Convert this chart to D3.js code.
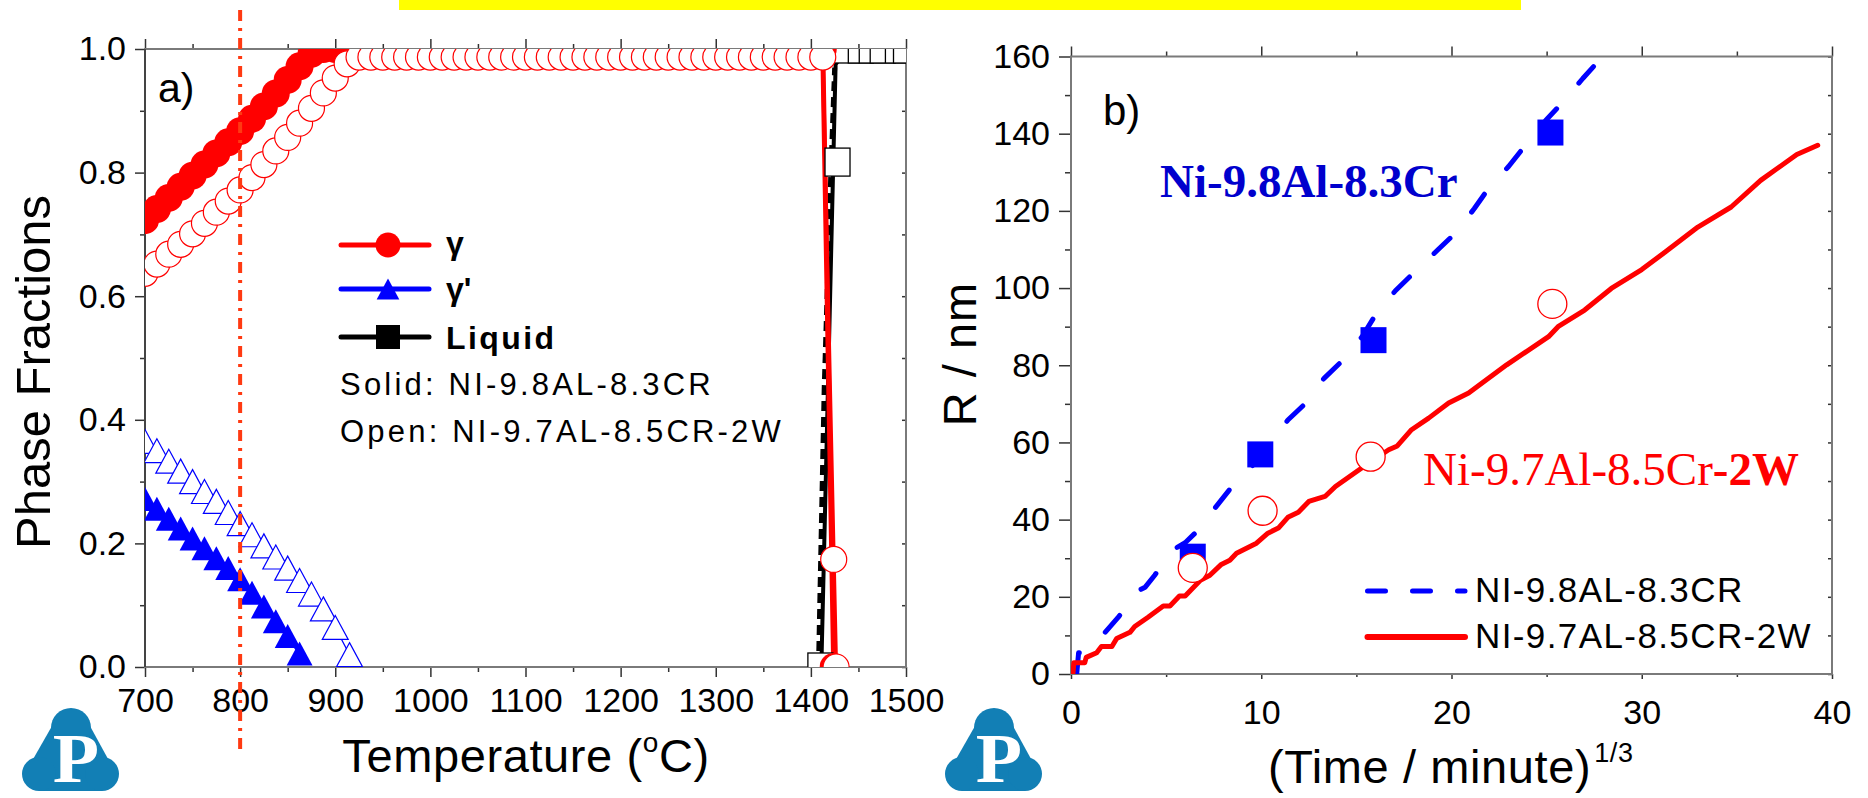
<!DOCTYPE html>
<html><head><meta charset="utf-8">
<script src="https://cdn.jsdelivr.net/npm/d3@7"></script>
<style>html,body{margin:0;padding:0;background:#fff;}svg{display:block;}</style>
</head><body>
<svg id="c" width="1868" height="798"></svg>
<script>
// ---------------- Panel a data (phase fractions vs temperature) ----------------
const xTicksA = [700, 800, 900, 1000, 1100, 1200, 1300, 1400, 1500];
const xMinorA = [750, 850, 950, 1050, 1150, 1250, 1350, 1450];
const yTicksA = [0, 0.2, 0.4, 0.6, 0.8, 1.0];
const yMinorA = [0.1, 0.3, 0.5, 0.7, 0.9];

// gamma, solid alloy (filled circles)
const gammaSolidT = [700, 712.5, 725, 737.5, 750, 762.5, 775, 787.5, 800, 812.5, 825, 837.5, 850, 862.5, 875, 887.5, 900, 912.5, 1412.5, 1424];
const gammaSolidF = [0.723, 0.741, 0.759, 0.777, 0.795, 0.813, 0.831, 0.849, 0.867, 0.887, 0.907, 0.928, 0.950, 0.972, 0.992, 1.0, 1.0, 1.0, 1.0, 0.0];
// gamma, open alloy (open circles)
const gammaOpenT = [700, 712.5, 725, 737.5, 750, 762.5, 775, 787.5, 800, 812.5, 825, 837.5, 850, 862.5, 875, 887.5, 900, 912.5,
  925, 937.5, 950, 962.5, 975, 987.5, 1000, 1012.5, 1025, 1037.5, 1050, 1062.5, 1075, 1087.5, 1100, 1112.5, 1125, 1137.5, 1150, 1162.5,
  1175, 1187.5, 1200, 1212.5, 1225, 1237.5, 1250, 1262.5, 1275, 1287.5, 1300, 1312.5, 1325, 1337.5, 1350, 1362.5, 1375, 1387.5, 1400, 1412.5,
  1424, 1426.5];
const gammaOpenF = [0.637, 0.652, 0.668, 0.684, 0.701, 0.718, 0.736, 0.754, 0.772, 0.792, 0.813, 0.835, 0.857, 0.880, 0.904, 0.929, 0.953, 0.976,
  0.987, 0.987, 0.987, 0.987, 0.987, 0.987, 0.987, 0.987, 0.987, 0.987, 0.987, 0.987, 0.987, 0.987, 0.987, 0.987, 0.987, 0.987, 0.987, 0.987,
  0.987, 0.987, 0.987, 0.987, 0.987, 0.987, 0.987, 0.987, 0.987, 0.987, 0.987, 0.987, 0.987, 0.987, 0.987, 0.987, 0.987, 0.987, 0.987, 0.987,
  0.174, 0.0];
// gamma prime, solid alloy (filled triangles)
const gpSolidT = [700, 712.5, 725, 737.5, 750, 762.5, 775, 787.5, 800, 812.5, 825, 837.5, 850, 862.5];
const gpSolidF = [0.272, 0.256, 0.240, 0.224, 0.208, 0.192, 0.176, 0.160, 0.142, 0.120, 0.098, 0.074, 0.050, 0.022];
// gamma prime, open alloy (open triangles)
const gpOpenT = [700, 712.5, 725, 737.5, 750, 762.5, 775, 787.5, 800, 812.5, 825, 837.5, 850, 862.5, 875, 887.5, 900, 915];
const gpOpenF = [0.365, 0.350, 0.333, 0.317, 0.300, 0.284, 0.268, 0.250, 0.232, 0.214, 0.196, 0.178, 0.160, 0.140, 0.118, 0.094, 0.064, 0.020];
// liquid, solid alloy (solid black line)
const liqSolidT = [1411, 1426, 1437.5, 1500];
const liqSolidF = [0.0, 0.975, 1.0, 1.0];
// liquid, open alloy (dashed black line + open squares)
const liqOpenLineT = [1408, 1414, 1421, 1425];
const liqOpenLineF = [0.0, 0.45, 0.80, 0.97];
const liqOpenT = [1410, 1428, 1437.5, 1452.5, 1464, 1475.5, 1491.5, 1500];
const liqOpenF = [0.0, 0.817, 1.0, 1.0, 1.0, 1.0, 1.0, 1.0];

const legendLabelsA = ["\u03b3", "\u03b3'", "Liquid"];
const noteSolid = "Solid: NI-9.8AL-8.3CR";
const noteOpen = "Open: NI-9.7AL-8.5CR-2W";
const markerTemp = 800;

// ---------------- Panel b data (R vs t^(1/3)) ----------------
const xTicksB = [0, 10, 20, 30, 40];
const xMinorB = [5, 15, 25, 35];
const yTicksB = [0, 20, 40, 60, 80, 100, 120, 140, 160];
const yMinorB = [10, 30, 50, 70, 90, 110, 130, 150];

const redX = [0.1, 0.15, 0.72, 0.8, 1.35, 1.6, 2.15, 2.4, 3.1, 3.35, 4.05, 4.85, 5.2, 5.7, 6.0, 6.8, 7.3, 7.9, 8.35, 8.7, 9.75, 10.35, 10.9, 11.4, 11.95, 12.5, 13.35, 13.9, 14.85, 15.9, 16.7, 17.15, 17.9, 18.8, 19.85, 20.9, 22.9, 25.1, 25.6, 27.0, 28.4, 30.0, 31.25, 32.95, 34.7, 36.25, 38.15, 39.25];
const redY = [0, 2.9, 2.9, 4.3, 5.5, 7.1, 7.1, 9.2, 10.8, 12.3, 14.7, 17.6, 17.6, 20.2, 20.2, 24.3, 25.6, 28.4, 29.5, 31.3, 33.9, 36.5, 37.8, 40.6, 41.9, 44.7, 46.0, 48.6, 51.9, 55.5, 58.1, 59.1, 63.3, 66.3, 70.2, 72.8, 80.1, 87.4, 90.0, 94.3, 99.9, 104.8, 109.4, 115.8, 121.0, 127.9, 134.6, 137.0];
const blueX = [0.3, 0.4, 0.6, 1.6, 2.5, 3.55, 3.9, 4.4, 5.4, 6.0, 6.5, 7.55, 8.45, 9.5, 11.4, 12.3, 13.3, 14.2, 15.3, 16.0, 17.05, 17.9, 19.3, 20.2, 21.2, 22.0, 23.0, 23.95, 24.95, 25.8, 26.9, 27.8];
const blueY = [0, 5.5, 5.5, 9.7, 14.8, 21.6, 22.5, 25.6, 32.3, 34.0, 36.4, 42.9, 48.5, 53.7, 65.8, 70.0, 76.6, 80.9, 87.4, 93.0, 99.3, 103.4, 110.0, 114.2, 120.6, 126.2, 131.5, 137.4, 143.4, 147.9, 154.3, 159.2];
const sqX = [6.4, 9.95, 15.9, 25.2];
const sqY = [30.4, 56.9, 86.5, 140.3];
const circX = [6.4, 10.07, 15.75, 25.3];
const circY = [27.5, 42.3, 56.3, 95.9];
const legendLabelsB = ["NI-9.8AL-8.3CR", "NI-9.7AL-8.5CR-2W"];
const annBlue = "Ni-9.8Al-8.3Cr";
const annRedA = "Ni-9.7Al-8.5Cr", annRedB = "-2W";

// ---------------- drawing ----------------
const FONT = "'Liberation Sans', Arial, Helvetica, sans-serif";
const SERIF = "'Liberation Serif', 'Times New Roman', Times, serif";
const RED = "#ff0000", BLUE = "#0000ff", FRAME = "#7a7a7a";
const svg = d3.select("#c");
svg.append("rect").attr("width", 1868).attr("height", 798).attr("fill", "#fff");
svg.append("rect").attr("x", 399).attr("y", 0).attr("width", 1122).attr("height", 10).attr("fill", "#ffff00");

const xA = d3.scaleLinear().domain([700, 1500]).range([145, 906]);
const yA = d3.scaleLinear().domain([0, 1]).range([667, 49]);
const xB = d3.scaleLinear().domain([0, 40]).range([1071, 1832]);
const yB = d3.scaleLinear().domain([0, 160]).range([674, 56.5]);

const defs = svg.append("defs");
defs.append("clipPath").attr("id", "clipA").append("rect").attr("x", 145).attr("y", 49).attr("width", 761).attr("height", 618);
defs.append("clipPath").attr("id", "clipB").append("rect").attr("x", 1071).attr("y", 56.5).attr("width", 761).attr("height", 617.5);

function styleAxis(g) {
  g.select(".domain").remove();
  g.selectAll(".tick line").attr("stroke", "#333").attr("stroke-width", 1.5);
  g.selectAll(".tick text").attr("font-family", FONT).attr("font-size", 34).attr("fill", "#000");
}
function drawAxes(x, y, o) {
  const [x0, x1] = x.range(), [yb, yt] = y.range();
  const g = svg.append("g");
  g.append("g").attr("transform", `translate(0,${yb})`).call(d3.axisBottom(x).tickValues(o.xMinor).tickSize(o.bMin).tickFormat("")).call(styleAxis);
  g.append("g").attr("transform", `translate(0,${yb})`).call(d3.axisBottom(x).tickValues(o.xTicks).tickSize(o.bMaj).tickPadding(o.bPad).tickFormat(o.xFmt)).call(styleAxis);
  g.append("g").attr("transform", `translate(0,${yt})`).call(d3.axisTop(x).tickValues(o.xMinor).tickSize(5).tickFormat("")).call(styleAxis);
  g.append("g").attr("transform", `translate(0,${yt})`).call(d3.axisTop(x).tickValues(o.xTicks).tickSize(10).tickFormat("")).call(styleAxis);
  g.append("g").attr("transform", `translate(${x0},0)`).call(d3.axisLeft(y).tickValues(o.yMinor).tickSize(o.lMin).tickFormat("")).call(styleAxis);
  g.append("g").attr("transform", `translate(${x0},0)`).call(d3.axisLeft(y).tickValues(o.yTicks).tickSize(o.lMaj).tickPadding(9).tickFormat(o.yFmt)).call(styleAxis);
  g.append("g").attr("transform", `translate(${x1},0)`).call(d3.axisLeft(y).tickValues(o.yMinor.concat(o.yTicks)).tickSize(4).tickFormat("")).call(styleAxis);
  g.append("rect").attr("x", x0).attr("y", yt).attr("width", x1 - x0).attr("height", yb - yt)
    .attr("fill", "none").attr("stroke", FRAME).attr("stroke-width", 2);
  return g;
}

drawAxes(xA, yA, {xTicks: xTicksA, xMinor: xMinorA, yTicks: yTicksA, yMinor: yMinorA, bMaj: 10, bMin: 5, bPad: 11, lMaj: 10, lMin: 5,
  xFmt: d3.format("d"), yFmt: d3.format(".1f")});
drawAxes(xB, yB, {xTicks: xTicksB, xMinor: xMinorB, yTicks: yTicksB, yMinor: yMinorB, bMaj: 5, bMin: 3, bPad: 21, lMaj: 12, lMin: 6,
  xFmt: d3.format("d"), yFmt: d3.format("d")});
// dark left spine on panel a
svg.append("line").attr("x1", 145).attr("x2", 145).attr("y1", 49).attr("y2", 667).attr("stroke", "#333").attr("stroke-width", 1.5);

// -------- panel a plot --------
const pa = svg.append("g").attr("clip-path", "url(#clipA)");
const lineA = d3.line().x(d => xA(d[0])).y(d => yA(d[1]));
const tri = s => `M0,${-s}L${s * 1.08},${s}L${-s * 1.08},${s}Z`;

pa.append("path").attr("d", lineA(d3.zip(liqSolidT, liqSolidF))).attr("fill", "none").attr("stroke", "#000").attr("stroke-width", 4);
pa.append("path").attr("d", lineA(d3.zip(liqOpenLineT, liqOpenLineF))).attr("fill", "none").attr("stroke", "#000").attr("stroke-width", 5).attr("stroke-dasharray", "10,6");
pa.append("path").attr("d", lineA(d3.zip(gpSolidT, gpSolidF))).attr("fill", "none").attr("stroke", BLUE).attr("stroke-width", 3);
pa.append("path").attr("d", lineA(d3.zip(gpOpenT, gpOpenF))).attr("fill", "none").attr("stroke", BLUE).attr("stroke-width", 1.2);
pa.append("path").attr("d", lineA(d3.zip(gammaSolidT, gammaSolidF))).attr("fill", "none").attr("stroke", RED).attr("stroke-width", 5);
pa.append("path").attr("d", lineA(d3.zip(gammaOpenT, gammaOpenF))).attr("fill", "none").attr("stroke", RED).attr("stroke-width", 4);

pa.selectAll(".lsq").data(d3.zip(liqOpenT, liqOpenF)).join("rect")
  .attr("x", d => xA(d[0]) - 12.5).attr("y", d => yA(d[1]) - 14).attr("width", 25).attr("height", 28)
  .attr("fill", "#fff").attr("stroke", "#000").attr("stroke-width", 1.3);
pa.selectAll(".gps").data(d3.zip(gpSolidT, gpSolidF)).join("path")
  .attr("transform", d => `translate(${xA(d[0])},${yA(d[1])})`).attr("d", tri(12)).attr("fill", BLUE);
pa.selectAll(".gpo").data(d3.zip(gpOpenT, gpOpenF)).join("path")
  .attr("transform", d => `translate(${xA(d[0])},${yA(d[1])})`).attr("d", tri(12)).attr("fill", "#fff").attr("stroke", BLUE).attr("stroke-width", 1.2);
pa.selectAll(".gs").data(d3.zip(gammaSolidT, gammaSolidF)).join("circle")
  .attr("cx", d => xA(d[0])).attr("cy", d => yA(d[1])).attr("r", 14).attr("fill", RED);
pa.selectAll(".go").data(d3.zip(gammaOpenT, gammaOpenF)).join("circle")
  .attr("cx", d => xA(d[0])).attr("cy", d => yA(d[1])).attr("r", 13).attr("fill", "#fff").attr("stroke", RED).attr("stroke-width", 1.2);

// vertical marker line at 800 C
svg.append("line").attr("x1", xA(markerTemp)).attr("x2", xA(markerTemp)).attr("y1", 10).attr("y2", 753)
  .attr("stroke", "#ff3a12").attr("stroke-width", 4).attr("stroke-dasharray", "11,7,3,7");

// legend a
const legA = [{c: RED, s: "circle"}, {c: BLUE, s: "tri"}, {c: "#000", s: "square"}];
const legAy = [245, 289, 337];
legA.forEach((L, i) => {
  const y = legAy[i];
  svg.append("line").attr("x1", 341).attr("x2", 429).attr("y1", y).attr("y2", y).attr("stroke", L.c).attr("stroke-width", 5).attr("stroke-linecap", "round");
  if (L.s === "circle") svg.append("circle").attr("cx", 388).attr("cy", y).attr("r", 12.5).attr("fill", L.c);
  if (L.s === "tri") svg.append("path").attr("transform", `translate(388,${y})`).attr("d", tri(10.5)).attr("fill", L.c);
  if (L.s === "square") svg.append("rect").attr("x", 376).attr("y", y - 12).attr("width", 24).attr("height", 24).attr("fill", L.c);
  svg.append("text").attr("x", 446).attr("y", [254, 300, 349][i]).attr("font-family", FONT).attr("font-weight", "bold")
    .attr("font-size", 32).attr("letter-spacing", i === 2 ? 2.4 : 0).text(legendLabelsA[i]);
});
svg.append("text").attr("x", 340).attr("y", 395).attr("font-family", FONT).attr("font-size", 31).attr("letter-spacing", 3.2).text(noteSolid);
svg.append("text").attr("x", 340).attr("y", 442).attr("font-family", FONT).attr("font-size", 31).attr("letter-spacing", 3.2).text(noteOpen);
svg.append("text").attr("x", 158).attr("y", 102).attr("font-family", FONT).attr("font-size", 41).text("a)");

// axis titles a
svg.append("text").attr("transform", "translate(50,372) rotate(-90)").attr("text-anchor", "middle")
  .attr("font-family", FONT).attr("font-size", 49).text("Phase Fractions");
const tA = svg.append("text").attr("x", 526).attr("y", 772).attr("text-anchor", "middle").attr("font-family", FONT).attr("font-size", 47).attr("letter-spacing", 0.6);
tA.append("tspan").text("Temperature (");
tA.append("tspan").attr("font-size", 28).attr("dy", -20).text("o");
tA.append("tspan").attr("dy", 20).text("C)");

// -------- panel b plot --------
const pb = svg.append("g").attr("clip-path", "url(#clipB)");
const lineB = d3.line().x(d => xB(d[0])).y(d => yB(d[1]));
pb.append("path").attr("d", lineB(d3.zip(blueX, blueY))).attr("fill", "none").attr("stroke", BLUE).attr("stroke-width", 5)
  .attr("stroke-linecap", "round").attr("stroke-linejoin", "round").attr("stroke-dasharray", "22,34");
pb.append("path").attr("d", lineB(d3.zip(redX, redY))).attr("fill", "none").attr("stroke", RED).attr("stroke-width", 5)
  .attr("stroke-linecap", "round").attr("stroke-linejoin", "round");
pb.selectAll(".bsq").data(d3.zip(sqX, sqY)).join("rect")
  .attr("x", d => xB(d[0]) - 13).attr("y", d => yB(d[1]) - 13).attr("width", 26).attr("height", 26).attr("fill", BLUE);
pb.selectAll(".rc").data(d3.zip(circX, circY)).join("circle")
  .attr("cx", d => xB(d[0])).attr("cy", d => yB(d[1])).attr("r", 14.5).attr("fill", "#fff").attr("stroke", RED).attr("stroke-width", 1.3);

// legend b
svg.append("line").attr("x1", 1367.5).attr("x2", 1465).attr("y1", 591).attr("y2", 591).attr("stroke", BLUE).attr("stroke-width", 5)
  .attr("stroke-linecap", "round").attr("stroke-dasharray", "18,27");
svg.append("line").attr("x1", 1367.5).attr("x2", 1465).attr("y1", 637).attr("y2", 637).attr("stroke", RED).attr("stroke-width", 6)
  .attr("stroke-linecap", "round");
svg.append("text").attr("x", 1475).attr("y", 602).attr("font-family", FONT).attr("font-size", 35).attr("letter-spacing", 1.4).text(legendLabelsB[0]);
svg.append("text").attr("x", 1475).attr("y", 648).attr("font-family", FONT).attr("font-size", 35).attr("letter-spacing", 1.4).text(legendLabelsB[1]);

svg.append("text").attr("x", 1160).attr("y", 197).attr("font-family", SERIF).attr("font-weight", "bold").attr("font-size", 47)
  .attr("fill", "#0000cd").text(annBlue);
const tR = svg.append("text").attr("x", 1423).attr("y", 485).attr("font-family", SERIF).attr("font-size", 47).attr("fill", RED);
tR.append("tspan").text(annRedA);
tR.append("tspan").attr("font-weight", "bold").text(annRedB);
svg.append("text").attr("x", 1103).attr("y", 125).attr("font-family", FONT).attr("font-size", 42).text("b)");

svg.append("text").attr("transform", "translate(976,354) rotate(-90)").attr("text-anchor", "middle")
  .attr("font-family", FONT).attr("font-size", 47).attr("letter-spacing", 1).text("R / nm");
const tB = svg.append("text").attr("x", 1268).attr("y", 783).attr("font-family", FONT).attr("font-size", 47).attr("letter-spacing", 0.6);
tB.append("tspan").text("(Time / minute)");
tB.append("tspan").attr("font-size", 27).attr("dy", -21).attr("dx", 3).text("1/3");

// logos
function logo(dx) {
  const g = svg.append("g").attr("transform", `translate(${dx},0)`);
  const c = "#127fb5";
  g.append("path").attr("d", "M52,726 L90,726 L113,768 L102,791 L39,791 L28,768 Z").attr("fill", c);
  g.append("circle").attr("cx", 71).attr("cy", 728).attr("r", 20).attr("fill", c);
  g.append("circle").attr("cx", 39).attr("cy", 774).attr("r", 17).attr("fill", c);
  g.append("circle").attr("cx", 102).attr("cy", 774).attr("r", 17).attr("fill", c);
  g.append("text").attr("transform", "translate(76,782) scale(1.15,1.07)").attr("text-anchor", "middle").attr("font-family", SERIF)
    .attr("font-weight", "bold").attr("font-size", 66).attr("fill", "#fff").text("P");
}
logo(0);
logo(923);
</script>
</body></html>
